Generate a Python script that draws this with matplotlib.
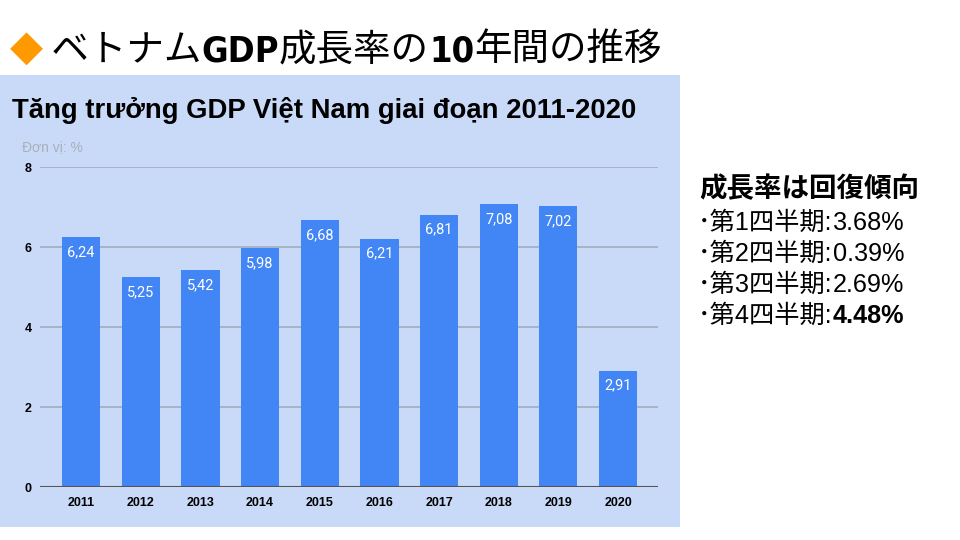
import matplotlib.pyplot as plt
from matplotlib.patches import Rectangle
from matplotlib.text import Annotation

years = ["2011", "2012", "2013", "2014", "2015", "2016", "2017", "2018", "2019", "2020"]
growth = [6.24, 5.25, 5.42, 5.98, 6.68, 6.21, 6.81, 7.08, 7.02, 2.91]
y_ticks = [0, 2, 4, 6, 8]

quarters = ["第1四半期:", "第2四半期:", "第3四半期:", "第4四半期:"]
quarter_values = ["3.68%", "0.39%", "2.69%", "4.48%"]

JP = ["Liberation Sans", "Noto Sans CJK JP"]
BAR_COLOR = "#4285f4"
PANEL_COLOR = "#c9daf8"

fig = plt.figure(figsize=(9.6, 5.4), dpi=100)
fig.patch.set_facecolor("white")

# light blue chart panel
panel = Rectangle((0, 1 - 527 / 540), 680 / 960, 452 / 540,
                  transform=fig.transFigure, facecolor=PANEL_COLOR,
                  edgecolor="none", zorder=-10)
fig.add_artist(panel)

# header: pieces with different fonts chained one after another
narrow = dict(color="black", family=["DejaVu Sans"], fontstretch="condensed",
              fontweight="bold", fontsize=26)
jp = dict(color="black", family=["Noto Sans CJK JP"], fontsize=27)
pieces = [
    (" ベトナム", jp),
    ("GDP", narrow),
    ("成長率の", jp),
    ("10", narrow),
    ("年間の推移", jp),
]
last = fig.text(10 / 960, 1 - 60 / 540, "◆", va="baseline", color="#ff9900",
                family=["DejaVu Sans"], fontsize=31)
for txt, kw in pieces:
    last = fig.add_artist(Annotation(txt, xy=(1, 0), xycoords=last,
                                     va="bottom", ha="left", **kw))

# chart title and unit
fig.text(12 / 960, 1 - 110 / 540, "Tăng trưởng GDP Việt Nam giai đoạn 2011-2020",
         fontsize=19.8, fontweight="bold", family=["Liberation Sans"],
         color="black", va="center", ha="left")
fig.text(22 / 960, 1 - 147 / 540, "Đơn vị: %", fontsize=10,
         family=["Liberation Sans"], color="#a8b0bc", va="center", ha="left")

ax = fig.add_axes([40 / 960, 1 - 487 / 540, 618 / 960, 320 / 540])
ax.set_facecolor("none")
x = list(range(len(years)))
ax.bar(x, growth, width=0.64, color=BAR_COLOR, zorder=3)
for xi, v in zip(x, growth):
    ax.text(xi, v - 0.2, f"{v:.2f}".replace(".", ","), ha="center", va="top",
            color="white", fontsize=10.5, family=["Roboto", "Liberation Sans"],
            zorder=4)

ax.set_xlim(-0.69, 9.67)
ax.set_ylim(0, 8)
ax.set_yticks(y_ticks)
ax.set_yticklabels([str(t) for t in y_ticks], fontweight="bold", fontsize=9,
                   family=["Liberation Sans"])
ax.set_xticks(x)
ax.set_xticklabels(years, fontweight="bold", fontsize=9, family=["Liberation Sans"])
ax.tick_params(axis="both", length=0, colors="black")
ax.tick_params(axis="y", pad=6)
ax.tick_params(axis="x", pad=7)
for s in ax.spines.values():
    s.set_visible(False)
for t in y_ticks[1:]:
    ax.axhline(t, color="#a2acbe", lw=1.2, zorder=1)
ax.axhline(0, color="#555555", lw=1.5, zorder=4)

# right side notes
fig.text(699 / 960, 1 - 190 / 540, "成長率は回復傾向", fontsize=19.8,
         fontweight="bold", family=JP, va="center", ha="left")
for i, (q, val) in enumerate(zip(quarters, quarter_values)):
    y = 1 - (223 + 31 * i) / 540
    t = fig.text(698 / 960, y, "･" + q, fontsize=18.2, family=JP,
                 va="center", ha="left")
    fig.add_artist(Annotation(
        val, xy=(1, 0.5), xycoords=t, va="center", ha="left",
        fontsize=18.2, family=JP,
        fontweight="bold" if i == 3 else "normal"))

fig.savefig("out.png", dpi=100, facecolor="white")
